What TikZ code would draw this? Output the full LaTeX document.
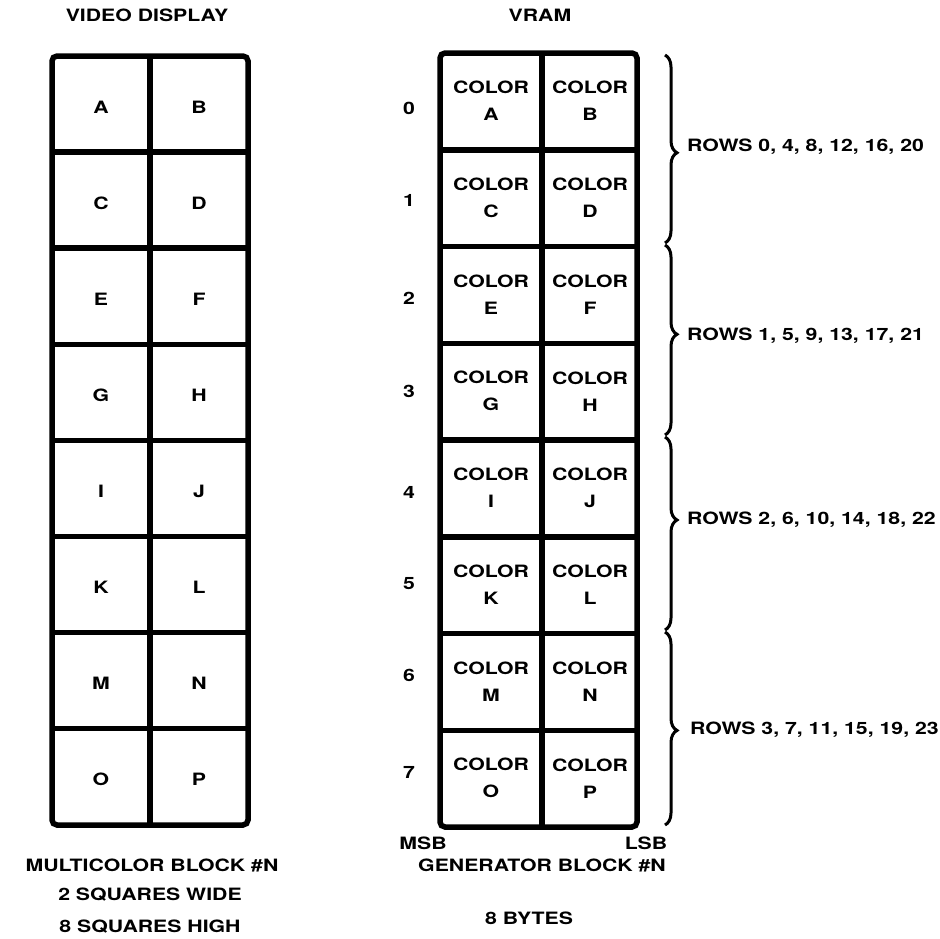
\documentclass[tikz,border=0pt]{standalone}
\usepackage{fontspec}
\setmainfont{TeX Gyre Heros}[FakeStretch=1.25]
\usepackage{tikz}
\usetikzlibrary{decorations.pathreplacing}

\tikzset{
  lbl/.style={font=\fontsize{17}{20}\selectfont\bfseries, inner sep=0pt},
  colorcell/.style={lbl, align=center, font=\fontsize{17}{27}\selectfont\bfseries},
  gridline/.style={line width=5.5pt},
  frame/.style={gridline, rounded corners=5pt},
  rowbrace/.style={decorate, decoration={brace, amplitude=12pt}, line width=3pt},
}

\begin{document}
\begin{tikzpicture}[x=1pt,y=-1pt]
  \useasboundingbox (0,0) rectangle (940,938);

  \node[lbl] (vdtitle) at (147,15) {VIDEO DISPLAY};
  \node[lbl] (vramtitle) at (540,15) {VRAM};

  % video display
  \draw[frame] (52,56) rectangle (248,825);
  \draw[gridline] (150,56) -- (150,825);
  \foreach \r in {1,...,7}
    \draw[gridline] (52,56+96.1*\r) -- (248,56+96.1*\r);
  \foreach \a/\b [count=\r from 0] in {A/B,C/D,E/F,G/H,I/J,K/L,M/N,O/P} {
    \node[lbl] (vd\a) at (101,107+96.1*\r) {\a};
    \node[lbl] (vd\b) at (199,107+96.1*\r) {\b};
  }

  % vram
  \draw[frame] (440,53) rectangle (637,827);
  \draw[gridline] (542,53) -- (542,827);
  \foreach \r in {1,...,7}
    \draw[gridline] (440,53+96.75*\r) -- (637,53+96.75*\r);
  \foreach \a/\b [count=\r from 0] in {A/B,C/D,E/F,G/H,I/J,K/L,M/N,O/P} {
    \node[colorcell] (vc\a) at (491,101+96.75*\r) {COLOR\\\a};
    \node[colorcell] (vc\b) at (590,101+96.75*\r) {COLOR\\\b};
  }
  \foreach \n/\y in {0/108,1/200,2/298,3/391,4/492,5/584,6/675,7/772}
    \node[lbl] (byte\n) at (409,\y) {\n};

  % braces
  \foreach \t/\b/\asp/\ly/\lx/\txt [count=\i] in {
      55/243/0.52/147/687/{ROWS 0, 4, 8, 12, 16, 20},
      245/435/0.47/336/687/{ROWS 1, 5, 9, 13, 17, 21},
      437/630/0.43/520/687/{ROWS 2, 6, 10, 14, 18, 22},
      632/825/0.51/730/690/{ROWS 3, 7, 11, 15, 19, 23}} {
    \coordinate (bt\i) at (665,\t);
    \coordinate (bb\i) at (665,\b);
    \draw[rowbrace, decoration={aspect=\asp}] (bt\i) -- (bb\i);
    \node[lbl, anchor=west] (rows\i) at (\lx,\ly) {\txt};
  }

  \node[lbl] (msb) at (423,843) {MSB};
  \node[lbl] (lsb) at (646,843) {LSB};
  \node[lbl] (genblock) at (542,865) {GENERATOR BLOCK \#N};
  \node[lbl] (bytes) at (529,918) {8 BYTES};

  \node[lbl] (mcblock) at (152,865) {MULTICOLOR BLOCK \#N};
  \node[lbl] (wide) at (150,895) {2 SQUARES WIDE};
  \node[lbl] (high) at (150,927) {8 SQUARES HIGH};
\end{tikzpicture}
\end{document}
